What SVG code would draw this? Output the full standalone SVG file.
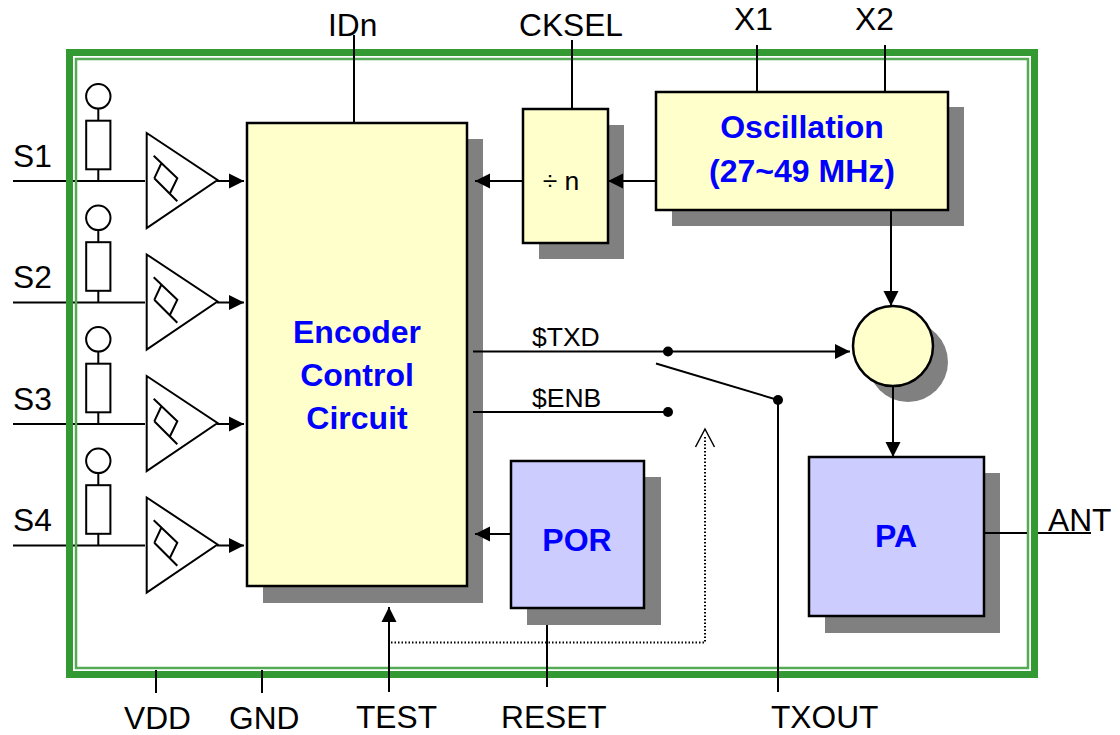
<svg xmlns="http://www.w3.org/2000/svg" xmlns:xlink="http://www.w3.org/1999/xlink" width="1120" height="735" viewBox="0 0 1120 735">
<style>
text{font-family:"Liberation Sans",Arial,sans-serif;fill:#000}
.lbl{font-size:31.7px}
.sig{font-size:26.500px}
.title{font-size:32px;font-weight:bold;fill:#0000ff;text-anchor:middle}
.w{fill:none;stroke:#000;stroke-width:2}
.box{stroke:#000;stroke-width:2.5}
.y{fill:#ffffcc}
.b{fill:#ccccff}
.s{fill:#808080}
.dot{fill:#000}
</style>
<defs>
<marker id="ah" markerUnits="userSpaceOnUse" markerWidth="16" markerHeight="16" refX="15" refY="8" orient="auto"><path d="M0,0.5L15,8L0,15.5Z" fill="#000"/></marker>
<g id="ch">
<circle class="w" cx="98.3" cy="96.3" r="12.2"/>
<path class="w" d="M98.3,108.5V120.7M98.3,169.3V181"/>
<rect class="w" x="86.2" y="120.7" width="24.2" height="48.6" fill="#fff"/>
<path class="w" d="M146.7,133L217.5,180L146.7,228Z"/>
<path class="w" d="M153.7,155.7L177.3,178.3L170,193.3M154.3,178.3L177.3,201.3M154.3,178.3L161,164"/>
<path class="w" d="M217,181H244" marker-end="url(#ah)"/>
</g>
</defs>
<g id="pin-lines-under">
<path class="w" d="M13,181H145M13,302.5H145M13,424H145M13,545.5H145"/>
</g>
<g id="frame">
<rect x="69.5" y="52.5" width="965" height="622" fill="none" stroke="#339933" stroke-width="7"/>
<rect x="76" y="59" width="952" height="609" fill="none" stroke="#55aa55" stroke-width="2.5"/>
</g>
<g id="S1"><use xlink:href="#ch" href="#ch"/><text class="lbl" x="13" y="167">S1</text></g>
<g id="S2"><use xlink:href="#ch" href="#ch" y="121.5"/><text class="lbl" x="13" y="288">S2</text></g>
<g id="S3"><use xlink:href="#ch" href="#ch" y="243"/><text class="lbl" x="13" y="410">S3</text></g>
<g id="S4"><use xlink:href="#ch" href="#ch" y="364.5"/><text class="lbl" x="13" y="531">S4</text></g>
<g id="encoder">
<rect class="s" x="263" y="139" width="220" height="464"/>
<rect class="y box" x="247" y="123" width="220" height="463"/>
<text class="title" x="357" y="343">Encoder</text>
<text class="title" x="357" y="386">Control</text>
<text class="title" x="357" y="429">Circuit</text>
</g>
<g id="divider">
<rect class="s" x="539" y="125" width="85" height="134"/>
<rect class="y box" x="523" y="109" width="85" height="134"/>
<text x="561" y="190" font-size="26.500" text-anchor="middle">÷ n</text>
</g>
<g id="oscillation">
<rect class="s" x="672" y="107" width="292" height="119"/>
<rect class="y box" x="656" y="92" width="292" height="118"/>
<text class="title" x="802" y="138">Oscillation</text>
<text class="title" x="802" y="182">(27~49 MHz)</text>
</g>
<g id="mixer">
<circle class="s" cx="908" cy="362" r="40"/>
<circle class="y box" cx="893" cy="346" r="40"/>
</g>
<g id="por">
<rect class="s" x="527" y="477" width="134" height="148"/>
<rect class="b box" x="511" y="461" width="133" height="147"/>
<text class="title" x="577" y="551">POR</text>
</g>
<g id="pa">
<rect class="s" x="825" y="473" width="175" height="160"/>
<rect class="b box" x="809" y="457" width="175" height="159"/>
<text class="title" x="896" y="547">PA</text>
</g>
<g id="connectors">
<path class="w" d="M354,35V123M572,40V109M757,45V92M885,45V92"/>
<path class="w" d="M984,533H1027M1038,533H1091"/>
<path class="w" d="M523,181H475" marker-end="url(#ah)"/>
<path class="w" d="M656,181H608" marker-end="url(#ah)"/>
<path class="w" d="M891,210V306" marker-end="url(#ah)"/>
<path class="w" d="M893,386V457" marker-end="url(#ah)"/>
<path class="w" d="M473,351.500H850" marker-end="url(#ah)"/>
<path class="w" d="M473,412H668M656,363.500L778,400V692"/>
<circle class="dot" cx="668" cy="351.500" r="5"/>
<circle class="dot" cx="668" cy="412" r="5"/>
<circle class="dot" cx="778" cy="400" r="5"/>
<path class="w" d="M511,534H475" marker-end="url(#ah)"/>
<path class="w" d="M389,692V607" marker-end="url(#ah)"/>
<path class="w" d="M547,625V687M156,670V693M262,670V693"/>
<path fill="none" stroke="#000" stroke-width="2" stroke-dasharray="1.500 2" d="M391,642.500H705V436"/>
<path fill="none" stroke="#000" stroke-width="1.500" d="M695.500,447L705,429L714.500,447"/>
</g>
<g id="labels">
<text class="lbl" x="328" y="36">IDn</text>
<text class="lbl" x="519" y="36">CKSEL</text>
<text class="lbl" x="734" y="30">X1</text>
<text class="lbl" x="855" y="30">X2</text>
<text class="sig" x="532" y="346">$TXD</text>
<text class="sig" x="532" y="407">$ENB</text>
<text class="lbl" x="1048" y="531">ANT</text>
<text class="lbl" x="124" y="729">VDD</text>
<text class="lbl" x="229" y="729">GND</text>
<text class="lbl" x="356" y="728">TEST</text>
<text class="lbl" x="501" y="728">RESET</text>
<text class="lbl" x="771" y="728">TXOUT</text>
</g>
</svg>
